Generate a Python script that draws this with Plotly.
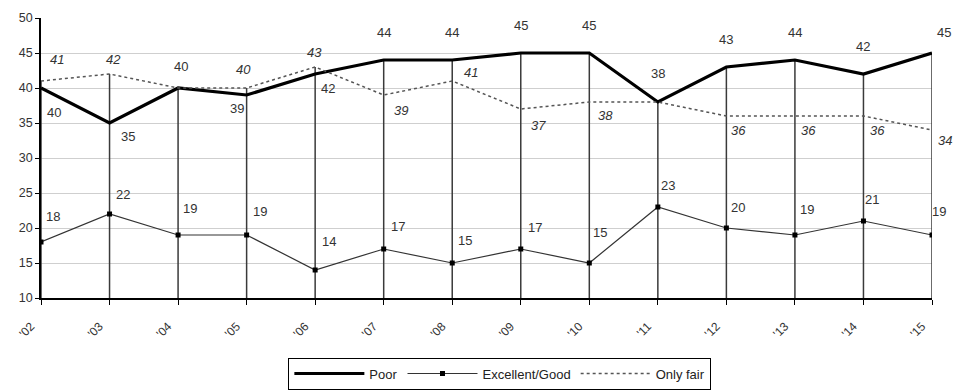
import plotly.graph_objects as go

# Survey ratings by year, percent of respondents
years = ["'02", "'03", "'04", "'05", "'06", "'07", "'08", "'09", "'10", "'11", "'12", "'13", "'14", "'15"]
poor = [40, 35, 40, 39, 42, 44, 44, 45, 45, 38, 43, 44, 42, 45]
excellent_good = [18, 22, 19, 19, 14, 17, 15, 17, 15, 23, 20, 19, 21, 19]
only_fair = [41, 42, 40, 40, 43, 39, 41, 37, 38, 38, 36, 36, 36, 34]

# Pixel offsets (dx right, dy down) for each point label; None = no label
poor_off = [(13, 24), (18, 13), (3, -22), (-10, 13), (13, 14), (0, -28), (0, -28),
            (0, -28), (0, -28), (0, -29), (0, -28), (0, -28), (0, -28), (12, -21)]
fair_off = [(16, -22), (4, -15), None, (-3, -19), (-1, -15), (17, 15), (19, -9),
            (18, 16), (16, 13), None, (12, 14), (14, 14), (14, 14), (13, 10)]
eg_off = [(12, -26), (13, -20), (12, -27), (13, -24), (14, -29), (14, -23), (13, -23),
          (14, -22), (11, -31), (10, -22), (12, -21), (12, -26), (9, -22), (7, -24)]

FONT = "Liberation Sans, Arial, sans-serif"
TXT = "#333333"
xs = list(range(len(years)))

fig = go.Figure()

# Drop lines from the highest value in each year down to the axis
dx, dy = [], []
for i in xs:
    top = max(poor[i], excellent_good[i], only_fair[i])
    dx += [i, i, None]
    dy += [10, top, None]
fig.add_trace(go.Scatter(x=dx, y=dy, mode="lines", line=dict(color="#3a3a3a", width=1.5),
                         hoverinfo="skip", showlegend=False))

fig.add_trace(go.Scatter(x=xs, y=poor, name="Poor", mode="lines",
                         line=dict(color="#000000", width=3.2)))
fig.add_trace(go.Scatter(x=xs, y=excellent_good, name="Excellent/Good", mode="lines+markers",
                         line=dict(color="#333333", width=1.2),
                         marker=dict(symbol="square", size=5, color="#000000")))
fig.add_trace(go.Scatter(x=xs, y=only_fair, name="Only fair", mode="lines",
                         line=dict(color="#555555", width=1.5, dash="dot")))

annotations = []
def add_labels(values, offsets, italic):
    for i, (v, off) in enumerate(zip(values, offsets)):
        if off is None:
            continue
        annotations.append(dict(
            x=i, y=v, xref="x", yref="y", text=f"<i>{v}</i>" if italic else str(v),
            showarrow=False, xshift=off[0], yshift=-off[1],
            xanchor="center", yanchor="middle",
            font=dict(family=FONT, size=13, color=TXT)))

add_labels(poor, poor_off, False)
add_labels(only_fair, fair_off, True)
add_labels(excellent_good, eg_off, False)

fig.update_layout(
    width=953, height=391,
    margin=dict(l=41, r=21, t=18, b=93, autoexpand=False),
    plot_bgcolor="white", paper_bgcolor="white",
    font=dict(family=FONT, size=12, color=TXT),
    annotations=annotations,
    showlegend=True,
    legend=dict(orientation="h", x=0.515, xanchor="center", y=-0.327, yanchor="bottom",
                bordercolor="#000000", borderwidth=1, font=dict(size=13, color="#222"),
                itemwidth=70, tracegroupgap=0),
    xaxis=dict(range=[0, 13], tickmode="array", tickvals=xs, ticktext=years,
               tickangle=-45, showgrid=False, zeroline=False, automargin=False,
               showline=True, linecolor="#000000", linewidth=1.5,
               ticks="outside", ticklen=5, tickcolor="#000000",
               ticklabelstandoff=10, ticklabelshift=-10,
               tickfont=dict(size=12, color=TXT)),
    yaxis=dict(range=[10, 50], dtick=5, showgrid=True, gridcolor="#cfcfcf", gridwidth=1,
               zeroline=False, showline=True, linecolor="#000000", linewidth=1.5,
               automargin=False,
               ticks="outside", ticklen=4, tickcolor="#000000",
               tickfont=dict(size=12.5, color=TXT)),
)

fig.write_html("out.html")
